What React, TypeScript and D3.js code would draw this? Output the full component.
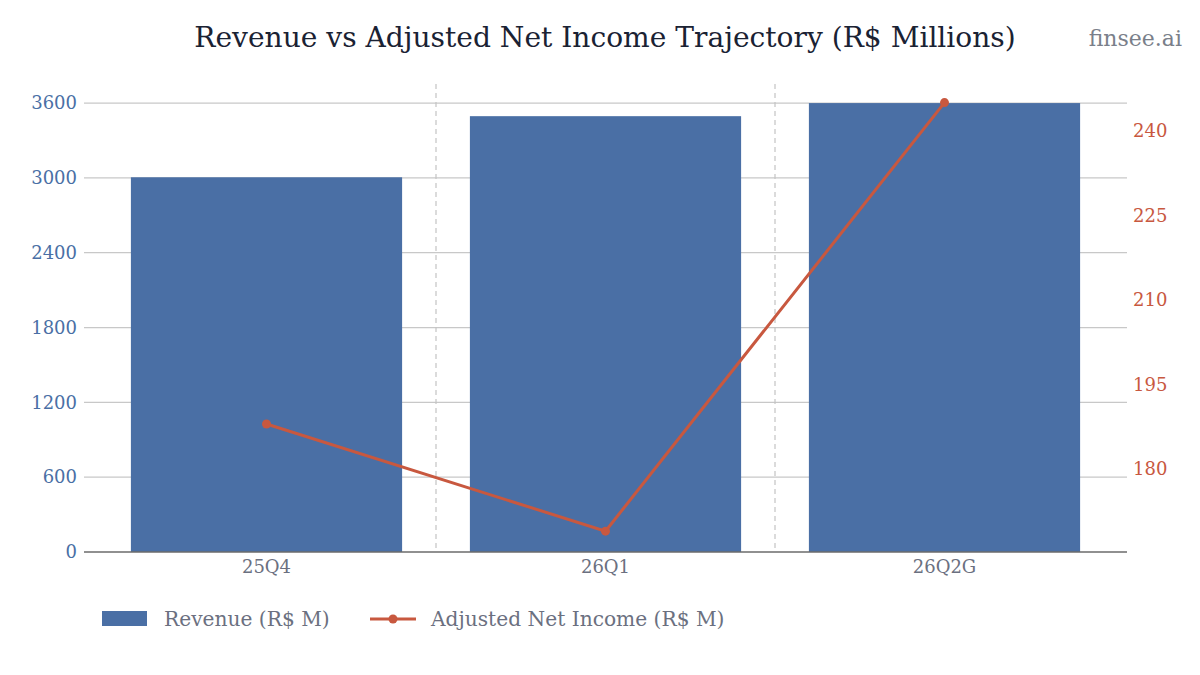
import React from "react";
import * as d3 from "d3";

const categories = ["25Q4", "26Q1", "26Q2G"];
const revenue = [3005, 3495, 3600];
const netIncome = [188, 169, 245];
const leftTicks = [0, 600, 1200, 1800, 2400, 3000, 3600];
const rightTicks = [180, 195, 210, 225, 240];

const W = 1200, H = 675;
const plotL = 84, plotR = 1127, plotT = 84, plotB = 552;
const FONT = "'DejaVu Serif', serif";
const BAR = "#4a6fa5";
const LINE = "#c8583f";
const GRID = "#c8c8c8";

export default function App() {
  const x = d3.scaleBand<string>().domain(categories).range([97, 1114]).paddingInner(0.2).paddingOuter(0.1);
  const step = x.step();
  const yL = d3.scaleLinear().domain([0, 3753]).range([plotB, plotT]);
  const yR = d3.scaleLinear().domain([165.3, 248.3]).range([plotB, plotT]);
  const line = d3.line<number>().x((_, i) => (x(categories[i]) as number) + x.bandwidth() / 2).y((d) => yR(d));
  const seps = categories.slice(1).map((c) => (x(c) as number) - (step * 0.2) / 2);

  return (
    <svg width={W} height={H} style={{ position: "absolute", left: 0, top: 0, background: "#fff" }} fontFamily={FONT}>
      <text x={605} y={47} textAnchor="middle" fontSize={28.1} fill="#1a2233">
        Revenue vs Adjusted Net Income Trajectory (R$ Millions)
      </text>
      <text x={1182} y={46} textAnchor="end" fontSize={22} fill="#7a7f8a">finsee.ai</text>

      {leftTicks.map((t) => (
        <g key={"l" + t}>
          {t > 0 && <line x1={plotL} x2={plotR} y1={yL(t)} y2={yL(t)} stroke={GRID} strokeWidth={1.2} />}
          <text x={77} y={yL(t)} dy="0.35em" textAnchor="end" fontSize={18} fill={BAR}>{t}</text>
        </g>
      ))}
      {rightTicks.map((t) => (
        <text key={"r" + t} x={1133} y={yR(t)} dy="0.35em" textAnchor="start" fontSize={18} fill={LINE}>{t}</text>
      ))}
      {seps.map((s, i) => (
        <line key={"s" + i} x1={s} x2={s} y1={plotT} y2={plotB} stroke="#c4c4c4" strokeWidth={1.2} strokeDasharray="5,4" />
      ))}
      {categories.map((c, i) => (
        <rect key={c} x={x(c)} y={yL(revenue[i])} width={x.bandwidth()} height={plotB - yL(revenue[i])} fill={BAR} />
      ))}
      <line x1={plotL} x2={plotR} y1={plotB} y2={plotB} stroke="#6b6b6b" strokeWidth={1.3} />
      {categories.map((c) => (
        <text key={"t" + c} x={(x(c) as number) + x.bandwidth() / 2} y={567} dy="0.35em" textAnchor="middle" fontSize={18} fill="#6b7080">{c}</text>
      ))}
      <path d={line(netIncome) || ""} fill="none" stroke={LINE} strokeWidth={3} />
      {netIncome.map((v, i) => (
        <circle key={"p" + i} cx={(x(categories[i]) as number) + x.bandwidth() / 2} cy={yR(v)} r={4.5} fill={LINE} />
      ))}

      <rect x={102} y={611} width={45} height={15} fill={BAR} />
      <text x={164} y={619} dy="0.35em" fontSize={20.2} fill="#6b7080">Revenue (R$ M)</text>
      <line x1={370} x2={416} y1={619} y2={619} stroke={LINE} strokeWidth={3} />
      <circle cx={393} cy={619} r={4.5} fill={LINE} />
      <text x={431} y={619} dy="0.35em" fontSize={20.2} fill="#6b7080">Adjusted Net Income (R$ M)</text>
    </svg>
  );
}
